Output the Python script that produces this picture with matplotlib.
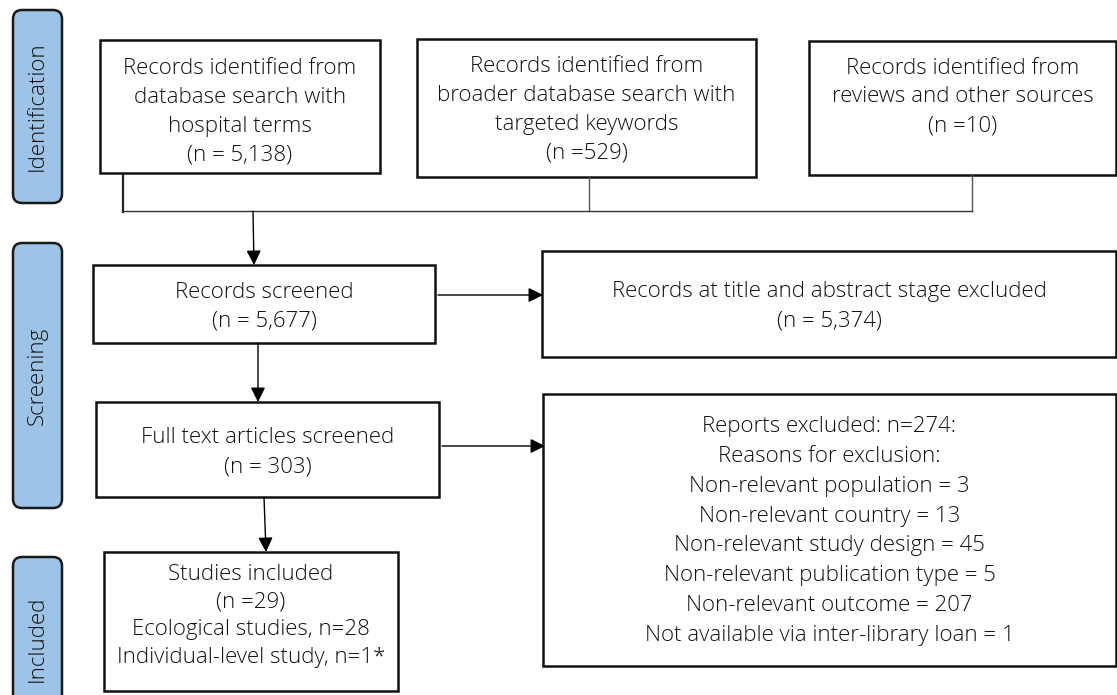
import matplotlib.pyplot as plt
from matplotlib.patches import Rectangle, FancyBboxPatch

plt.rcParams['font.family'] = ['Open Sans', 'DejaVu Sans']

# stage labels on the left
stages = ['Identification', 'Screening', 'Included']

# record counts in the flow
n_hospital = '5,138'
n_broader = '529'
n_reviews = '10'
n_screened = '5,677'
n_excl_title = '5,374'
n_fulltext = '303'
n_reports_excl = 274
n_included = 29
n_ecological = 28
n_individual = 1

exclusion_reasons = ['Non-relevant population', 'Non-relevant country',
                     'Non-relevant study design', 'Non-relevant publication type',
                     'Non-relevant outcome', 'Not available via inter-library loan']
exclusion_counts = [3, 13, 45, 5, 207, 1]

FS = 16
W, H = 1117, 695

fig = plt.figure(figsize=(W / 100, H / 100), dpi=100)
ax = fig.add_axes([0, 0, 1, 1])
ax.set_xlim(0, W)
ax.set_ylim(H, 0)
ax.axis('off')


def box(x0, y0, x1, y1, text, tx=None, ty=None, ls=1.5):
    ax.add_patch(Rectangle((x0, y0), x1 - x0, y1 - y0, fill=False,
                           edgecolor='#111111', lw=1.8))
    if tx is None:
        tx = (x0 + x1) / 2
    if ty is None:
        ty = (y0 + y1) / 2
    ax.text(tx, ty, text, ha='center', va='center', fontsize=FS,
            fontweight='light', linespacing=ls, color='#111111')


def stage(y0, y1, label):
    ax.add_patch(FancyBboxPatch((13, y0), 49, y1 - y0,
                                boxstyle='round,pad=0,rounding_size=9',
                                facecolor='#9DC3E6', edgecolor='#1a1a1a', lw=1.8,
                                clip_on=False))
    ax.text(37.5, (y0 + y1) / 2, label, rotation=90, ha='center', va='center',
            fontsize=FS, fontweight='light', color='#111111')


def arrow(x0, y0, x1, y1):
    ax.annotate('', xy=(x1, y1), xytext=(x0, y0),
                arrowprops=dict(arrowstyle='-|>', color='black', lw=1.0,
                                mutation_scale=22, shrinkA=0, shrinkB=0))


stage(10, 203, stages[0])
stage(243, 508, stages[1])
stage(557, 720, stages[2])

box(100, 40, 380, 173,
    'Records identified from\ndatabase search with\nhospital terms\n(n = %s)' % n_hospital,
    ty=112)
box(417, 39, 756, 177,
    'Records identified from\nbroader database search with\ntargeted keywords\n(n =%s)' % n_broader,
    ty=110)
box(809, 41, 1116, 175,
    'Records identified from\nreviews and other sources\n(n =%s)' % n_reviews,
    ty=97)

# connectors from the three sources
ax.plot([123, 123], [175, 212], color='#222222', lw=1.6)
ax.plot([589, 589], [177, 211], color='#555555', lw=1.0)
ax.plot([972, 972], [175, 211], color='#555555', lw=1.0)
ax.plot([122, 972], [211, 211], color='#333333', lw=1.0)
arrow(253, 211, 254, 265)

box(93, 265, 435, 343, 'Records screened\n(n = %s)' % n_screened, ty=307)
arrow(438, 295, 543, 295)
box(542, 251, 1116, 357,
    'Records at title and abstract stage excluded\n(n = %s)' % n_excl_title, ty=306)

arrow(258, 343, 258, 402)
box(96, 402, 439, 497, 'Full text articles screened\n(n = %s)' % n_fulltext, ty=452)
arrow(442, 446, 545, 446)

reasons = '\n'.join('%s = %d' % (r, c) for r, c in zip(exclusion_reasons, exclusion_counts))
box(543, 394, 1116, 666,
    'Reports excluded: n=%d:\nReasons for exclusion:\n%s' % (n_reports_excl, reasons),
    ty=531, ls=1.55)

arrow(264, 497, 266, 552)
box(104, 552, 398, 691,
    'Studies included\n(n =%d)\nEcological studies, n=%d\nIndividual-level study, n=%d*'
    % (n_included, n_ecological, n_individual), ty=616, ls=1.41)

fig.savefig('out.png', dpi=100)
